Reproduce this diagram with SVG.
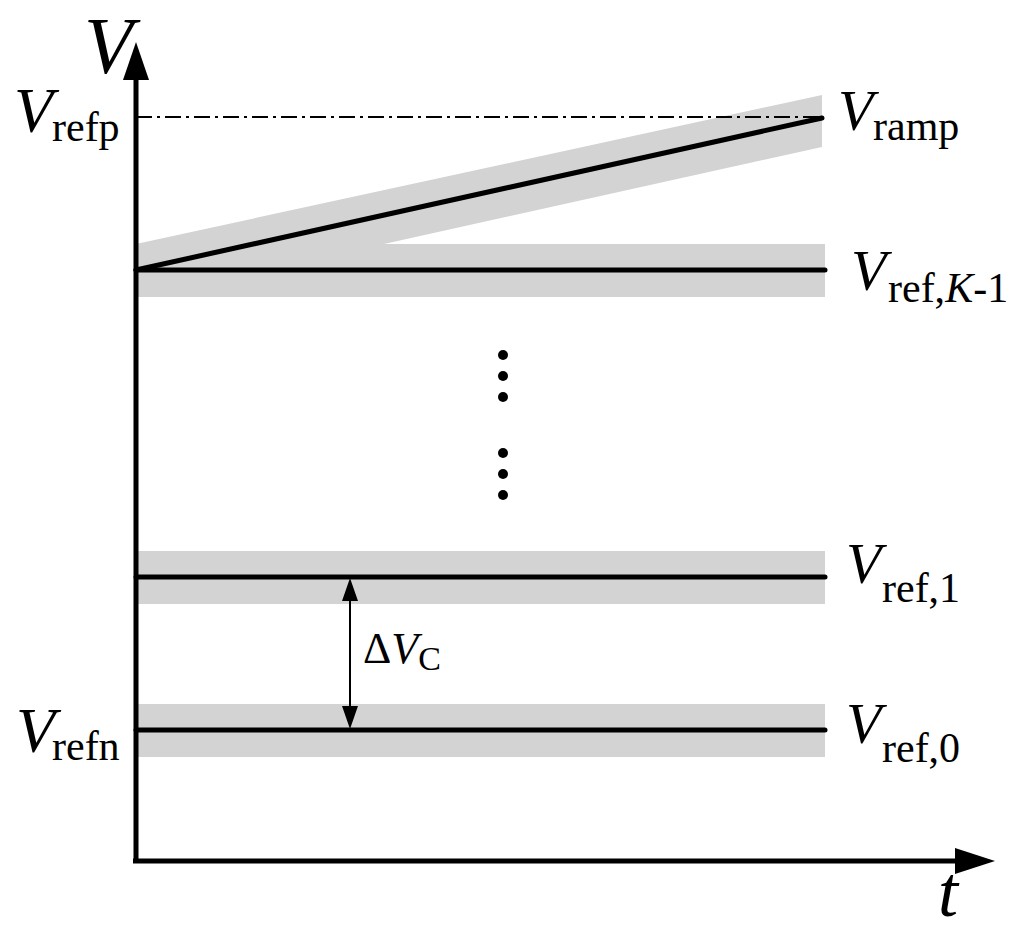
<svg xmlns="http://www.w3.org/2000/svg" width="1024" height="937" viewBox="0 0 1024 937">
<style>
.band{fill:#d3d3d3}
.ln{stroke:#000;stroke-width:5;stroke-linecap:round;fill:none}
.ax{stroke:#000;stroke-width:5;fill:none}
.t{font-family:"Liberation Serif","Times New Roman",serif;fill:#000}
.v{font-style:italic;font-size:58px}
.s{font-size:42px}
.dot{fill:#000}
</style>
<g id="bands">
<polygon class="band" points="136,244 822,95 822,147 384,244 825,244 825,297 136,297"/>
<rect class="band" x="136" y="551" width="689" height="53"/>
<rect class="band" x="136" y="704" width="689" height="53"/>
</g>
<g id="connectors">
<line x1="136" y1="117" x2="822" y2="117" stroke="#000" stroke-width="2" stroke-dasharray="16,5,3,5"/>
<line class="ln" x1="136" y1="270" x2="822" y2="118"/>
<line class="ln" x1="136" y1="270" x2="825" y2="270"/>
<line class="ln" x1="136" y1="577" x2="825" y2="577"/>
<line class="ln" x1="136" y1="730" x2="825" y2="730"/>
<line x1="350" y1="600" x2="350" y2="707" stroke="#000" stroke-width="2"/>
<polygon points="350,578 342,601 358,601" fill="#000"/>
<polygon points="350,729 342,706 358,706" fill="#000"/>
<line class="ax" x1="136" y1="862" x2="136" y2="76"/>
<polygon points="136,42 123,80 149,80" fill="#000"/>
<line class="ax" x1="133" y1="861" x2="958" y2="861"/>
<polygon points="995,861 955,848 955,874" fill="#000"/>
</g>
<g id="dots">
<circle class="dot" cx="503" cy="355" r="5"/>
<circle class="dot" cx="503" cy="376" r="5"/>
<circle class="dot" cx="503" cy="397" r="5"/>
<circle class="dot" cx="503" cy="453" r="5"/>
<circle class="dot" cx="503" cy="474" r="5"/>
<circle class="dot" cx="503" cy="495" r="5"/>
</g>
<g id="labels" class="t">
<text x="84" y="73" font-style="italic" font-size="80">V</text>
<text x="938" y="916" font-style="italic" font-size="72">t</text>
<g id="vrefp"><text class="v" x="14" y="132" style="font-size:64px">V</text><text class="s" x="52" y="141">refp</text></g>
<g id="vrefn"><text class="v" x="16" y="752" style="font-size:64px">V</text><text class="s" x="52" y="760">refn</text></g>
<g id="vramp"><text class="v" x="838" y="130">V</text><text class="s" x="873" y="140">ramp</text></g>
<g id="vrefk"><text class="v" x="851" y="290">V</text><text class="s" x="888" y="302">ref,<tspan font-style="italic">K</tspan>-1</text></g>
<g id="vref1"><text class="v" x="846" y="583">V</text><text class="s" x="882" y="602">ref,1</text></g>
<g id="vref0"><text class="v" x="846" y="743">V</text><text class="s" x="882" y="762">ref,0</text></g>
<g id="dvc"><text x="363" y="663" font-size="44">Δ<tspan font-style="italic">V</tspan><tspan font-size="34" dy="7">C</tspan></text></g>
</g>
</svg>
